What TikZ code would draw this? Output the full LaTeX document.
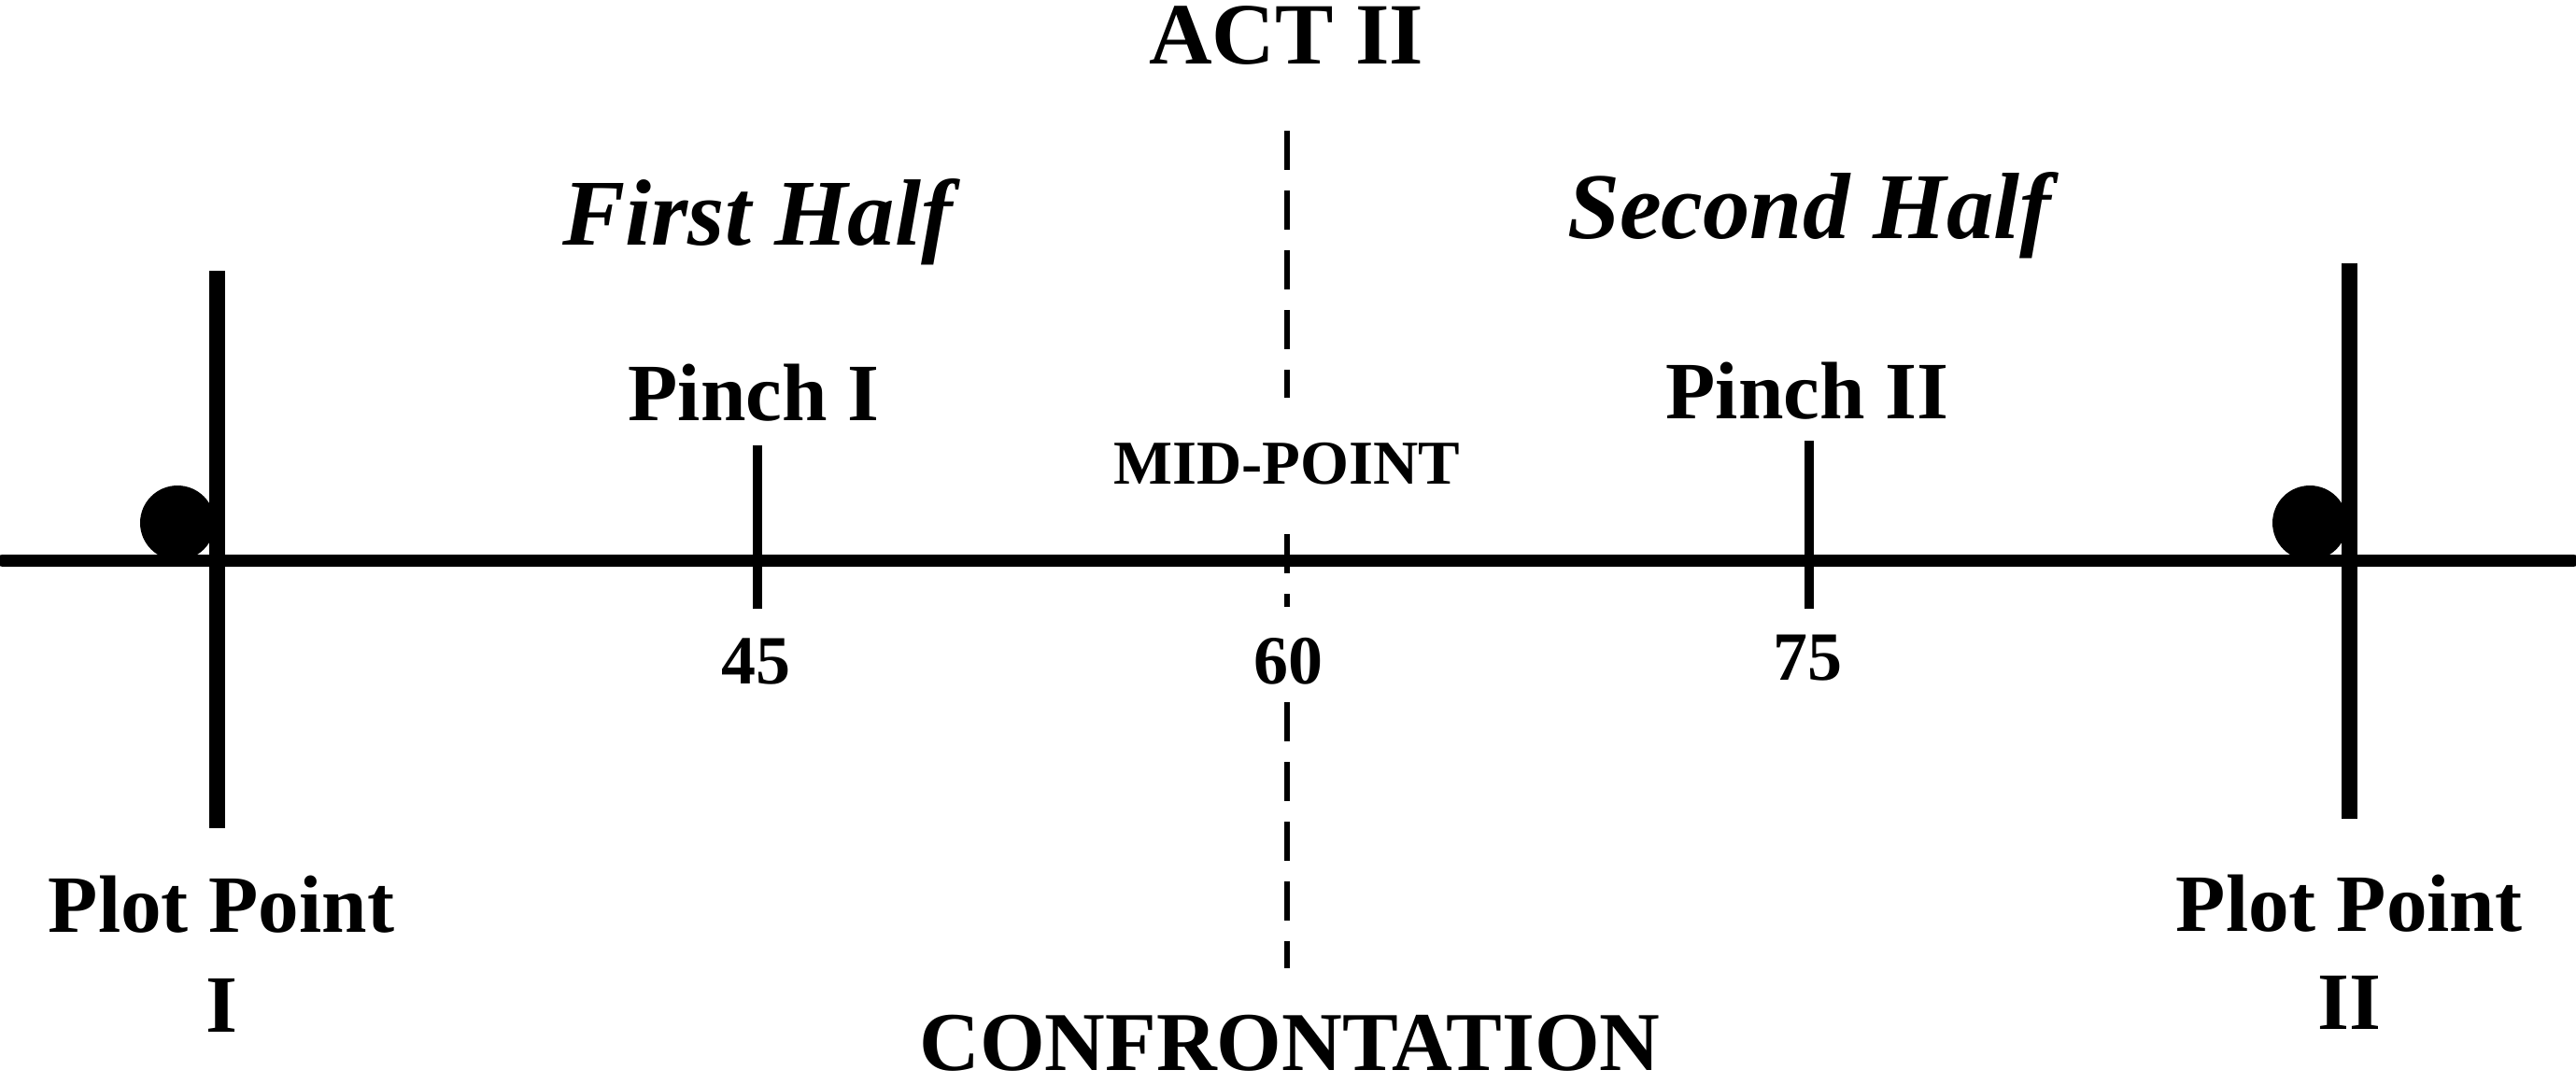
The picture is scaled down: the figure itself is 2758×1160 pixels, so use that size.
\documentclass[tikz,border=0pt]{standalone}
\usepackage{fontspec}
\setmainfont{Liberation Serif}
\begin{document}
\begin{tikzpicture}[x=0.25pt,y=-0.25pt,
  lbl/.style={inner sep=0pt, anchor=base, font=\bfseries\fontsize{21.8}{25}\selectfont},
  biglbl/.style={lbl, font=\bfseries\fontsize{23.4}{27}\selectfont},
  conflbl/.style={lbl, font=\bfseries\fontsize{22.4}{26}\selectfont},
  halflbl/.style={lbl, font=\bfseries\itshape\fontsize{25.2}{29}\selectfont},
  midlbl/.style={lbl, font=\bfseries\fontsize{16.7}{20}\selectfont},
  numlbl/.style={lbl, font=\bfseries\fontsize{18.5}{22}\selectfont},
  mainline/.style={line width=3.25pt, line cap=round},
  barline/.style={line width=4.25pt},
  tickline/.style={line width=2.5pt},
  midline/.style={line width=1.5pt, dash pattern=on 10.5pt off 5.5pt},
  dotnode/.style={circle, fill=black, inner sep=0pt, minimum size=20pt}]
\useasboundingbox (0,0) rectangle (2758,1160);
% main timeline
\coordinate (L0) at (3,600);
\coordinate (L1) at (2755,600);
\draw[mainline] (L0) -- (L1);
% plot point bars
\coordinate (b1t) at (232,290);
\coordinate (b1b) at (232,887);
\coordinate (b2t) at (2515,282);
\coordinate (b2b) at (2515,877);
\draw[barline] (b1t) -- (b1b);
\draw[barline] (b2t) -- (b2b);
% dots
\node[dotnode] (d1) at (190,560) {};
\node[dotnode] (d2) at (2473,560) {};
% pinch ticks
\coordinate (p1t) at (811,477);
\coordinate (p1b) at (811,652);
\coordinate (p2t) at (1937,472);
\coordinate (p2b) at (1937,652);
\draw[tickline] (p1t) -- (p1b);
\draw[tickline] (p2t) -- (p2b);
% mid-point dashed line
\coordinate (m1a) at (1378,140);
\coordinate (m1b) at (1378,426);
\coordinate (m2a) at (1378,572);
\coordinate (m2b) at (1378,650);
\coordinate (m3a) at (1378,752);
\coordinate (m3b) at (1378,1037);
\draw[midline] (m1a) -- (m1b);
\draw[midline] (m2a) -- (m2b);
\draw[midline] (m3a) -- (m3b);
% labels
\node[biglbl] (act) at (1377,68) {ACT II};
\node[halflbl] (fh) at (811,262) {First Half};
\node[halflbl] (sh) at (1937,255) {Second Half};
\node[lbl] (pin1) at (807,450) {Pinch I};
\node[lbl] (pin2) at (1935,448) {Pinch II};
\node[midlbl] (mid) at (1378,518) {MID-POINT};
\node[numlbl] (n45) at (809,732) {45};
\node[numlbl] (n60) at (1379,732) {60};
\node[numlbl] (n75) at (1935,728) {75};
\node[lbl] (pp1a) at (237,998) {Plot Point};
\node[lbl] (pp1b) at (237,1105) {I};
\node[lbl] (pp2a) at (2515,997) {Plot Point};
\node[lbl] (pp2b) at (2515,1102) {II};
\node[conflbl] (conf) at (1381,1146) {CONFRONTATION};
\end{tikzpicture}
\end{document}
